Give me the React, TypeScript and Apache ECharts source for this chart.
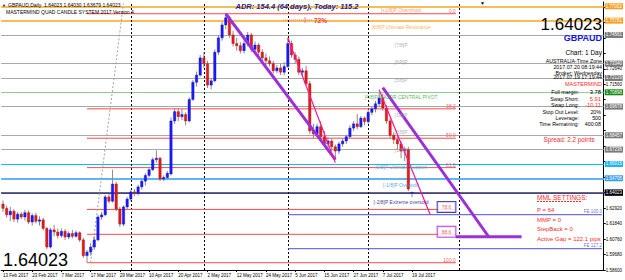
import React, { useEffect, useRef } from "react";
import * as echarts from "echarts";

// ---------- categories (daily bars, Feb 13 – Jul 19 2017) ----------
const tradingDays: [string, number[]][] = [
  ["Feb", [13, 14, 15, 16, 17, 20, 21, 22, 23, 24, 27, 28]],
  ["Mar", [1, 2, 3, 6, 7, 8, 9, 10, 13, 14, 15, 16, 17, 20, 21, 22, 23, 24, 27, 28, 29, 30, 31]],
  ["Apr", [3, 4, 5, 6, 7, 10, 11, 12, 13, 14, 17, 18, 19, 20, 21, 24, 25, 26, 27, 28]],
  ["May", [1, 2, 3, 4, 5, 8, 9, 10, 11, 12, 15, 16, 17, 18, 19, 22, 23, 24, 25, 26, 29, 30, 31]],
  ["Jun", [1, 2, 5, 6, 7, 8, 9, 12, 13, 14, 15, 16, 19, 20, 21, 22, 23, 26, 27, 28, 29, 30]],
  ["Jul", [3, 4, 5, 6, 7, 10, 11, 12, 13, 14, 17, 18, 19]],
];
const FUTURE_BARS = 52;

// ---------- candles: [open, high, low, close] ----------
const ohlc: number[][] = [
  [1.6320, 1.6345, 1.6265, 1.6290], [1.6290, 1.6310, 1.6225, 1.6245], [1.6245, 1.6300, 1.6200, 1.6270],
  [1.6270, 1.6285, 1.6195, 1.6215], [1.6215, 1.6265, 1.6190, 1.6250], [1.6250, 1.6265, 1.6215, 1.6230],
  [1.6230, 1.6280, 1.6205, 1.6260], [1.6260, 1.6275, 1.6180, 1.6195], [1.6195, 1.6255, 1.6170, 1.6240],
  [1.6240, 1.6260, 1.6185, 1.6200], [1.6200, 1.6235, 1.6170, 1.6210], [1.6210, 1.6225, 1.6135, 1.6150],
  [1.6150, 1.6160, 1.6005, 1.6020], [1.6020, 1.6155, 1.6010, 1.6140], [1.6140, 1.6175, 1.6095, 1.6125],
  [1.6125, 1.6150, 1.6080, 1.6100], [1.6100, 1.6150, 1.6085, 1.6130], [1.6130, 1.6145, 1.6070, 1.6090],
  [1.6090, 1.6130, 1.6075, 1.6115], [1.6115, 1.6140, 1.6080, 1.6095], [1.6095, 1.6135, 1.6085, 1.6120],
  [1.6120, 1.6130, 1.6055, 1.6070], [1.6070, 1.6085, 1.5945, 1.5960], [1.5960, 1.6000, 1.5911, 1.5985],
  [1.5985, 1.6050, 1.5960, 1.6020], [1.6020, 1.6095, 1.6000, 1.6070], [1.6070, 1.6245, 1.6060, 1.6230],
  [1.6230, 1.6265, 1.6210, 1.6245], [1.6245, 1.6385, 1.6235, 1.6370], [1.6370, 1.6390, 1.6325, 1.6340],
  [1.6340, 1.6560, 1.6330, 1.6460], [1.6460, 1.6475, 1.6270, 1.6285], [1.6285, 1.6300, 1.6160, 1.6180],
  [1.6180, 1.6310, 1.6165, 1.6300], [1.6300, 1.6370, 1.6285, 1.6355], [1.6355, 1.6420, 1.6340, 1.6405],
  [1.6405, 1.6425, 1.6375, 1.6395], [1.6395, 1.6455, 1.6380, 1.6440], [1.6440, 1.6495, 1.6420, 1.6480],
  [1.6480, 1.6535, 1.6450, 1.6520], [1.6520, 1.6570, 1.6505, 1.6560], [1.6560, 1.6645, 1.6550, 1.6630],
  [1.6630, 1.6695, 1.6610, 1.6640], [1.6640, 1.6650, 1.6480, 1.6495], [1.6495, 1.6520, 1.6480, 1.6505],
  [1.6505, 1.6550, 1.6490, 1.6535], [1.6530, 1.6925, 1.6520, 1.6900], [1.6900, 1.6990, 1.6880, 1.6965],
  [1.6965, 1.6990, 1.6900, 1.6930], [1.6930, 1.6985, 1.6905, 1.6945], [1.6945, 1.6960, 1.6870, 1.6900],
  [1.6900, 1.7065, 1.6890, 1.7050], [1.7050, 1.7185, 1.7040, 1.7170], [1.7170, 1.7245, 1.7140, 1.7220],
  [1.7220, 1.7360, 1.7210, 1.7340], [1.7340, 1.7380, 1.7270, 1.7300], [1.7300, 1.7320, 1.7130, 1.7150],
  [1.7150, 1.7200, 1.7120, 1.7180], [1.7180, 1.7400, 1.7170, 1.7380], [1.7380, 1.7500, 1.7360, 1.7480],
  [1.7480, 1.7590, 1.7460, 1.7570], [1.7570, 1.7648, 1.7540, 1.7620], [1.7620, 1.7635, 1.7480, 1.7500],
  [1.7500, 1.7530, 1.7420, 1.7440], [1.7440, 1.7480, 1.7390, 1.7425], [1.7425, 1.7450, 1.7370, 1.7390],
  [1.7390, 1.7460, 1.7370, 1.7440], [1.7440, 1.7520, 1.7420, 1.7500], [1.7500, 1.7515, 1.7380, 1.7400],
  [1.7400, 1.7455, 1.7375, 1.7430], [1.7430, 1.7445, 1.7350, 1.7380], [1.7380, 1.7400, 1.7310, 1.7340],
  [1.7340, 1.7370, 1.7290, 1.7320], [1.7320, 1.7350, 1.7280, 1.7300], [1.7300, 1.7320, 1.7230, 1.7250],
  [1.7250, 1.7290, 1.7235, 1.7270], [1.7270, 1.7300, 1.7220, 1.7240], [1.7240, 1.7310, 1.7220, 1.7280],
  [1.7280, 1.7480, 1.7270, 1.7440], [1.7440, 1.7460, 1.7340, 1.7360], [1.7360, 1.7380, 1.7300, 1.7330],
  [1.7330, 1.7350, 1.7220, 1.7240], [1.7240, 1.7270, 1.7210, 1.7250], [1.7250, 1.7285, 1.7150, 1.7160],
  [1.7160, 1.7180, 1.6810, 1.6830], [1.6830, 1.6880, 1.6780, 1.6810], [1.6810, 1.6880, 1.6790, 1.6860],
  [1.6860, 1.6900, 1.6770, 1.6790], [1.6790, 1.6830, 1.6720, 1.6740], [1.6740, 1.6790, 1.6710, 1.6760],
  [1.6760, 1.6780, 1.6690, 1.6720], [1.6720, 1.6735, 1.6630, 1.6690], [1.6690, 1.6755, 1.6670, 1.6740],
  [1.6740, 1.6780, 1.6720, 1.6760], [1.6760, 1.6805, 1.6740, 1.6790], [1.6790, 1.6870, 1.6780, 1.6850],
  [1.6850, 1.6900, 1.6830, 1.6880], [1.6880, 1.6950, 1.6840, 1.6860], [1.6860, 1.6935, 1.6850, 1.6920],
  [1.6920, 1.6930, 1.6870, 1.6895], [1.6895, 1.6980, 1.6880, 1.6960], [1.6960, 1.7000, 1.6940, 1.6985],
  [1.6985, 1.7040, 1.6960, 1.7020], [1.7020, 1.7095, 1.7000, 1.7060], [1.7060, 1.7090, 1.6970, 1.6990],
  [1.6990, 1.7010, 1.6880, 1.6900], [1.6900, 1.6920, 1.6780, 1.6800], [1.6800, 1.6820, 1.6740, 1.6770],
  [1.6770, 1.6800, 1.6700, 1.6740], [1.6740, 1.6760, 1.6640, 1.6690], [1.6690, 1.6720, 1.6620, 1.6700],
  [1.6700, 1.6720, 1.6410, 1.6425], [1.64023, 1.64030, 1.63679, 1.64023],
];
const lastPrice = 1.64023;

// ---------- Murrey math levels ----------
const mmLevels = [1.77002, 1.75781, 1.74561, 1.7334, 1.72119, 1.70898, 1.69678, 1.68457, 1.67236, 1.66016, 1.64795, 1.63574];
const mmLabels = [
  "[+1/8]P Overshoot", "[8/8]P Ultimate Resistance", "[7/8]P", "[6/8]P", "[5/8]P",
  "[4/8]P MAJOR CENTRAL PIVOT", "[3/8]P", "[2/8]P", "[1/8]P", "[0/8]P Ultimate Support",
  "[-1/8]P Oversold", "[-2/8]P Extreme oversold",
];
const mmLineColors = ["#f5a623", "#f5a623", "#a8a8a8", "#a8a8a8", "#a8a8a8", "#8fcf8f", "#a8a8a8", "#a8a8a8", "#a8a8a8", "#00bfff", "#62b2f7", "#000080"];
const mmLineWidths = [1.5, 1.5, 1, 1, 1, 1.2, 1, 1, 1, 1.2, 2, 1.5];
const mmBoxColors = ["#f5a020", "#f5a020", "#7a7a7a", "#7a7a7a", "#7a7a7a", "#1a8a1a", "#7a7a7a", "#7a7a7a", "#7a7a7a", "#18b4f0", "#3c9cf0", "#000080"];
const mmTextColors = ["#f08050", "#f0a030", "#9a9a9a", "#9a9a9a", "#9a9a9a", "#2e9e2e", "#9a9a9a", "#9a9a9a", "#9a9a9a", "#20b0e8", "#3090e0", "#000080"];

// ---------- Fibonacci retracement (anchors: Mar low / May high) ----------
const fibHigh = 1.76482;
const fibLow = 1.59109;
const fibRatios = [0, 0.382, 0.5, 0.618, 0.786, 0.886, 1];
const fibLabels = ["0.0", "38.2", "50.0", "61.8", "78.6", "88.6", "100.0"];
const fibStartIdx = 23;
const fibEndIdx = 124;

// ---------- Fibonacci expansion ----------
const feLevels = [1.62458, 1.60086];
const feLabels = ["FE 100.0", "FE 127.2"];
const feStartIdx = 78;

// ---------- trend lines [idx, price] ----------
const trendLines = [
  { a: [61, 1.7648], b: [91, 1.663], color: "#9b30d9", width: 3 },
  { a: [78, 1.7481], b: [91, 1.6609], color: "#ff1493", width: 1.2 },
  { a: [104, 1.7132], b: [133, 1.6092], color: "#9b30d9", width: 3 },
  { a: [124, 1.6092], b: [142, 1.6092], color: "#9b30d9", width: 3 },
  { a: [103, 1.7118], b: [117, 1.6246], color: "#ff1493", width: 1.2 },
];
const fibDiagonal = { a: [24, 1.5911], b: [33, 1.772] };

// month separators (category indices)
const separators = [35, 55, 78, 100, 125];

// price scale
const yMin = 1.586;
const yMax = 1.773;
const yStep = 0.0108;

const FONT = "'Liberation Sans', Arial, sans-serif";

export default function App() {
  const ref = useRef<HTMLDivElement>(null);

  useEffect(() => {
    if (!ref.current) return;
    const chart = echarts.init(ref.current, undefined, { renderer: "svg" });

    const dates: string[] = [];
    tradingDays.forEach(([m, days]) => days.forEach((d) => dates.push(`${d} ${m} 2017`)));
    const categories = [...dates, ...Array.from({ length: FUTURE_BARS }, (_, k) => `+${k + 1}`)];
    const lastIdx = categories.length - 1;
    const showLabel = (i: number) => i % 8 === 0 && i < dates.length;

    const candleData = ohlc.map((d, i) => [i, d[0], d[1], d[2], d[3]]);
    const boxPrices = [...mmLevels, lastPrice];

    const seg = (a: number[], b: number[], color: string, width: number, type: any = "solid", extra: any = {}) => ({
      type: "line",
      data: [a, b],
      symbol: "none",
      silent: true,
      animation: false,
      lineStyle: { color, width, type },
      z: 3,
      ...extra,
    });

    const fibPrices = fibRatios.map((r) => fibHigh - r * (fibHigh - fibLow));

    const levelMarkLines: any[] = mmLevels.map((p, k) => ({
      yAxis: p,
      lineStyle: { color: mmLineColors[k], width: mmLineWidths[k], type: "solid" },
      label: {
        show: true, position: "end", formatter: p.toFixed(5), backgroundColor: mmBoxColors[k],
        color: "#fff", fontSize: 4.5, padding: [1, 1, 0, 1], distance: 1, fontFamily: FONT,
      },
    }));
    levelMarkLines.push({
      yAxis: lastPrice,
      lineStyle: { color: "#6a6a6a", width: 1, type: "solid" },
      label: {
        show: true, position: "end", formatter: lastPrice.toFixed(5), backgroundColor: "#000",
        color: "#fff", fontSize: 4.5, padding: [1, 1, 0, 1], distance: 1, fontFamily: FONT,
      },
    });
    separators.forEach((i) =>
      levelMarkLines.push({
        xAxis: categories[i],
        lineStyle: { color: "#000", width: 1, type: [2, 2] },
        label: { show: false },
      })
    );

    const series: any[] = [];
    fibPrices.forEach((p, k) => {
      const s: any = seg([fibStartIdx, p], [fibEndIdx, p], "#ff4a4a", 1, "solid", { z: 2 });
      if (k === 0) {
        s.markLine = { silent: true, symbol: ["none", "none"], animation: false, data: levelMarkLines, z: 1 };
      }
      series.push(s);
    });
    feLevels.forEach((p) => series.push(seg([feStartIdx, p], [lastIdx, p], "#5050d0", 1, "solid", { z: 2 })));
    series.push(seg(fibDiagonal.a, fibDiagonal.b, "#a0a0a0", 1, [2, 2]));

    // candles
    series.push({
      type: "custom",
      data: candleData,
      encode: { x: 0, y: [1, 2, 3, 4] },
      z: 4,
      silent: true,
      renderItem: (_p: any, api: any) => {
        const i = api.value(0);
        const o = api.value(1), h = api.value(2), l = api.value(3), c = api.value(4);
        const pO = api.coord([i, o]);
        const pC = api.coord([i, c]);
        const pH = api.coord([i, h]);
        const pL = api.coord([i, l]);
        const x = pO[0];
        const w = 2.4;
        const top = Math.min(pO[1], pC[1]);
        const hh = Math.max(Math.abs(pO[1] - pC[1]), 1);
        const up = c >= o;
        return {
          type: "group",
          children: [
            { type: "line", shape: { x1: x, y1: pH[1], x2: x, y2: pL[1] }, style: { stroke: "#8a8a8a", lineWidth: 1 } },
            { type: "rect", shape: { x: x - w / 2, y: top, width: w, height: hh }, style: { fill: up ? "#1a1aff" : "#e31b1b", stroke: up ? "#1010c0" : "#b01010", lineWidth: 0.4 } },
          ],
        };
      },
    });

    trendLines.forEach((t) => series.push(seg(t.a, t.b, t.color, t.width, "solid", { z: 5 })));

    const textSeries = (data: any[], label: any) => ({
      type: "scatter",
      data,
      symbolSize: 1,
      itemStyle: { color: "rgba(0,0,0,0)" },
      silent: true,
      z: 6,
      label: { show: true, position: "inside", fontSize: 5, fontFamily: FONT, ...label },
    });
    series.push(
      textSeries(
        mmLevels.map((p, k) => ({ value: [109, p], label: { formatter: mmLabels[k], color: mmTextColors[k] } })),
        { offset: [0, 3.5], align: "center" }
      )
    );
    series.push(
      textSeries(
        fibPrices
          .map((p, k) => ({ value: [fibEndIdx, p], label: { formatter: fibLabels[k] } }))
          .filter((_, k) => k !== 4 && k !== 5),
        { offset: [0, -2.8], align: "right", color: "#ff3030" }
      )
    );
    series.push(
      textSeries(
        [
          { value: [122, fibPrices[4]], label: { formatter: fibLabels[4], borderColor: "#1010a0" } },
          { value: [122, fibPrices[5]], label: { formatter: fibLabels[5], borderColor: "#a020d0" } },
        ],
        { offset: [-2, -2.5], align: "center", color: "#ff3030", backgroundColor: "#fff", borderWidth: 1, padding: [3, 4, 2, 4] }
      )
    );
    series.push(
      textSeries(
        feLevels.map((p, k) => ({ value: [lastIdx, p], label: { formatter: feLabels[k] } })),
        { offset: [0, -3], align: "right", color: "#4646c8", fontSize: 4.5 }
      )
    );

    const T = (text: string, x: number, y: number, size: number, fill: string, align = "left", extra: any = {}) => ({
      type: "text",
      x,
      y,
      z: 50,
      silent: true,
      style: { text, fill, fontSize: size, fontFamily: FONT, align, verticalAlign: "middle", ...extra },
    });

    const red = "#ff2a2a";
    const graphic: any[] = [
      T("▼", 2, 5, 4, "#000"),
      T("GBPAUD,Daily  1.64023 1.64030 1.63679 1.64023", 8, 5, 5, "#000"),
      T("MASTERMIND QUAD CANDLE SYSTEM 2017 Version 4", 6, 11.5, 5, "#000"),
      T("▼", 480, 2.5, 5, "#000"),
      T("ADR: 154.4 (64 days), Today: 115.2", 297, 6.5, 7.5, "#1c1c8c", "center", { fontWeight: "bold", fontStyle: "italic" }),
      { type: "line", z: 50, silent: true, shape: { x1: 283, y1: 20, x2: 312, y2: 20 }, style: { stroke: "#f08080", lineWidth: 1, lineDash: [1, 1] } },
      { type: "line", z: 50, silent: true, shape: { x1: 305, y1: 17, x2: 305, y2: 23 }, style: { stroke: "#f08080", lineWidth: 1 } },
      T("72%", 314, 20, 6.5, "#f04040", "left", { fontWeight: "bold" }),
      T("1.64023", 602, 24, 17, "#000", "right"),
      T("GBPAUD", 602, 38, 9, "#1414e6", "right", { fontWeight: "bold" }),
      T("Chart: 1 Day", 602, 52, 6.5, "#000", "right"),
      T("AUSTRALIA-Time Zone", 602, 60.5, 5.3, "#000", "right"),
      T("2017.07.20 08:19:44", 602, 66.5, 5.3, "#000", "right"),
      T("Broker: Wednesday", 602, 72.5, 5.3, "#000", "right"),
      T("2017.07.19 17:19:44", 602, 77, 5.3, "#000", "right"),
      T("MASTERMIND", 602, 84.3, 5.5, red, "right"),
      T("Full margin:", 579, 92.3, 5.3, "#000", "right"),
      T("3.78", 601, 92.3, 5.8, "#000", "right"),
      T("Swap Short:", 579, 99, 5.3, "#000", "right"),
      T("5.91", 601, 99, 5.8, red, "right"),
      T("Swap Long:", 579, 105.3, 5.3, "#000", "right"),
      T("-10.11", 601, 105.3, 5.8, red, "right"),
      T("Stop Out Level:", 579, 111.7, 5.3, "#000", "right"),
      T("20%", 601, 111.7, 5.3, "#000", "right"),
      T("Leverage:", 579, 117.7, 5.3, "#000", "right"),
      T("500", 601, 117.7, 5.3, "#000", "right"),
      T("Time Remaining:", 579, 124, 5.3, "#000", "right"),
      T("400:08", 601, 124, 5.3, "#000", "right"),
      T("Spread: 2.2 points", 569, 139, 6.3, red, "center"),
      T("MML SETTINGS:", 537, 197, 6.5, red),
      { type: "line", z: 50, silent: true, shape: { x1: 537, y1: 201.5, x2: 582, y2: 201.5 }, style: { stroke: red, lineWidth: 1, lineDash: [2, 1] } },
      T("P = 64", 537, 210, 6, red),
      T("MMP = 0", 537, 219.5, 6, red),
      T("StepBack = 0", 537, 229, 6, red),
      T("Active Gap = 122.1 pips", 537, 238.5, 6, red),
      T("1.64023", 3, 260, 18, "#000"),
    ];

    chart.setOption({
      animation: false,
      backgroundColor: "#fff",
      textStyle: { fontFamily: FONT },
      grid: { left: 0, top: 2, width: 604, height: 268, containLabel: false },
      xAxis: {
        type: "category",
        data: categories,
        boundaryGap: true,
        axisLine: { show: true, lineStyle: { color: "#000", width: 1 } },
        axisTick: { show: true, interval: (i: number) => showLabel(i), length: 2, lineStyle: { color: "#000" }, alignWithLabel: true },
        axisLabel: { show: true, interval: (i: number) => showLabel(i), fontSize: 4.5, color: "#000", align: "left", margin: 2.5 },
        splitLine: { show: false },
      },
      yAxis: {
        type: "value",
        position: "right",
        min: yMin,
        max: yMax,
        interval: yStep,
        axisLine: { show: true, lineStyle: { color: "#000", width: 1 } },
        axisTick: { show: true, length: 2, lineStyle: { color: "#000" } },
        axisLabel: {
          fontSize: 4.5, color: "#000", margin: 2, showMaxLabel: false,
          // a tick label hidden behind a level's price box is not drawn
          formatter: (v: number) => (boxPrices.some((p) => Math.abs(p - v) < 0.0042) ? "" : v.toFixed(5)),
        },
        splitLine: { show: false },
      },
      series,
      graphic,
    });

    return () => chart.dispose();
  }, []);

  return <div ref={ref} style={{ position: "fixed", left: 0, top: 0, width: 625, height: 280 }} />;
}
